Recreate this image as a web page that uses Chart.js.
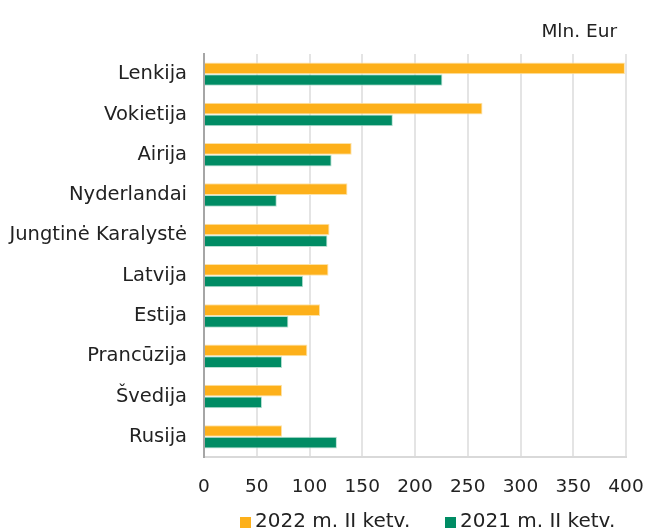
<!DOCTYPE html>
<html>
<head>
<meta charset="utf-8">
<script src="https://cdn.jsdelivr.net/npm/chart.js@4"></script>
<style>
    html, body { margin: 0; padding: 0; background: #fff; overflow: hidden; }
    #wrap { position: relative; width: 646px; height: 531px; }
</style>
</head>
<body>
<div id="wrap"><canvas id="chart"></canvas></div>
<script>
// šalys
const countries = ['Lenkija', 'Vokietija', 'Airija', 'Nyderlandai', 'Jungtinė Karalystė',
    'Latvija', 'Estija', 'Prancūzija', 'Švedija', 'Rusija'];
// 2022 m. II ketv.
const values2022 = [399, 264, 140, 136, 119, 118, 110, 98, 74, 74];
// 2021 m. II ketv.
const values2021 = [226, 179, 121, 69, 117, 94, 80, 74, 55, 126];
const xTicks = [0, 50, 100, 150, 200, 250, 300, 350, 400];
const unitLabel = 'Mln. Eur';

const fontFamily = '"DejaVu Sans", Verdana, sans-serif';

// vieneto užrašas ir legenda
const extrasPlugin = {
    id: 'extras',
    afterDraw(chart) {
        const ctx = chart.ctx;
        ctx.save();
        ctx.font = '18.5px ' + fontFamily;
        ctx.fillStyle = '#222';
        ctx.textAlign = 'right';
        ctx.textBaseline = 'middle';
        ctx.fillText(unitLabel, chart.chartArea.right - 9, 32);

        // legenda apačioje
        const legendX = [240, 445];
        const legendY = 522;
        ctx.font = '20px ' + fontFamily;
        ctx.textAlign = 'left';
        chart.data.datasets.forEach((ds, i) => {
            ctx.fillStyle = ds.backgroundColor;
            ctx.fillRect(legendX[i], legendY - 5, 11, 11);
            ctx.fillStyle = '#222';
            ctx.fillText(ds.label, legendX[i] + 15, legendY);
        });
        ctx.restore();
    }
};

new Chart(document.getElementById('chart'), {
    type: 'bar',
    data: {
        labels: countries,
        datasets: [{
            label: '2022 m. II ketv.',
            data: values2022,
            backgroundColor: '#fdb01a',
            borderColor: '#fde3a8',
            borderWidth: 1
        }, {
            label: '2021 m. II ketv.',
            data: values2021,
            backgroundColor: '#008c64',
            borderColor: '#b9e0d3',
            borderWidth: 1
        }]
    },
    options: {
        indexAxis: 'y',
        responsive: true,
        maintainAspectRatio: false,
        animation: false,
        layout: { padding: { left: 0, right: 20, top: 54, bottom: 32 } },
        datasets: {
            bar: { barPercentage: 1, categoryPercentage: 0.58 }
        },
        scales: {
            x: {
                min: 0,
                max: 400,
                afterBuildTicks: axis => { axis.ticks = xTicks.map(v => ({ value: v })); },
                afterFit: axis => {
                    axis.height = 42;
                    axis.paddingLeft = 0;
                    axis.paddingRight = 0;
                },
                grid: { color: '#e4e4e4', lineWidth: 2, drawTicks: false },
                border: { color: '#d9d9d9', width: 2 },
                ticks: { color: '#222', padding: 19, font: { family: fontFamily, size: 18.5 } }
            },
            y: {
                afterFit: axis => { axis.width = 204; },
                grid: { display: false, drawTicks: false },
                border: { color: '#a6a6a6', width: 2 },
                ticks: { color: '#222', padding: 17, font: { family: fontFamily, size: 19.5 } }
            }
        },
        plugins: {
            legend: { display: false },
            tooltip: { enabled: false }
        }
    },
    plugins: [extrasPlugin]
});
</script>
</body>
</html>
